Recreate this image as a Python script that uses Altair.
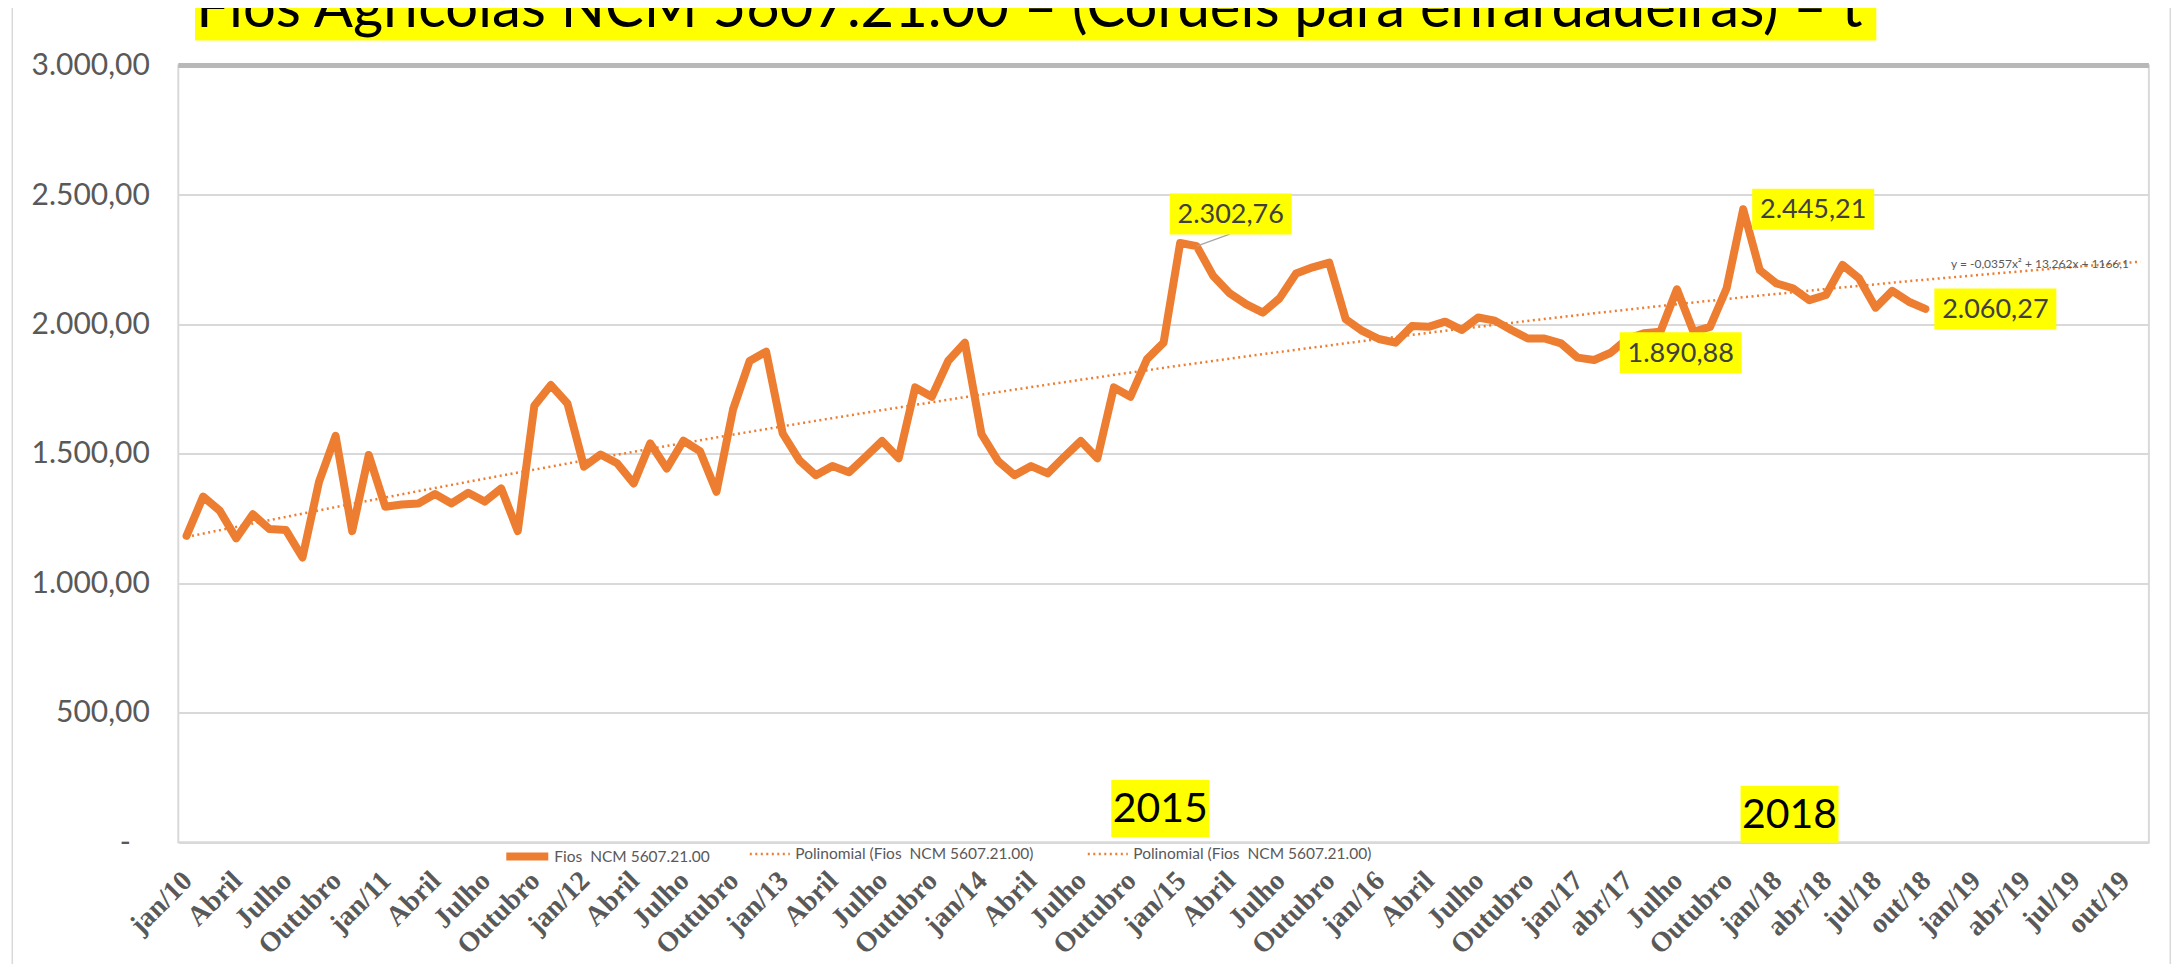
import json
import altair as alt
import pandas as pd

# ---------------- data ----------------
values = [
    1184, 1335, 1281, 1174, 1267, 1210, 1206, 1100, 1393, 1570,
    1202, 1496, 1296, 1305, 1309, 1345, 1309, 1350, 1316, 1367,
    1202, 1686, 1766, 1695, 1451, 1498, 1464, 1386, 1541, 1444,
    1551, 1511, 1354, 1672, 1859, 1895, 1579, 1476, 1418, 1453,
    1429, 1489, 1550, 1483, 1757, 1721, 1860, 1930, 1577, 1473,
    1418, 1453, 1425, 1489, 1550, 1483, 1757, 1721, 1866, 1930,
    2315, 2302.76, 2187, 2120, 2078, 2046, 2101, 2197, 2221, 2239,
    2020, 1975, 1944, 1930, 1994, 1991, 2011, 1979, 2027, 2015,
    1979, 1946, 1946, 1927, 1872, 1863, 1890.88, 1945, 1966, 1972,
    2136, 1972, 1991, 2140, 2445.21, 2210, 2159, 2140, 2094, 2114,
    2230, 2178, 2065, 2130, 2088, 2060.27,
]
n_categories = 119  # jan/10 ... nov/19

tick_labels = [
    "jan/10", "Abril", "Julho", "Outubro",
    "jan/11", "Abril", "Julho", "Outubro",
    "jan/12", "Abril", "Julho", "Outubro",
    "jan/13", "Abril", "Julho", "Outubro",
    "jan/14", "Abril", "Julho", "Outubro",
    "jan/15", "Abril", "Julho", "Outubro",
    "jan/16", "Abril", "Julho", "Outubro",
    "jan/17", "abr/17", "Julho", "Outubro",
    "jan/18", "abr/18", "jul/18", "out/18",
    "jan/19", "abr/19", "jul/19", "out/19",
]
y_ticks = [0, 500, 1000, 1500, 2000, 2500, 3000]

series_name = "Fios\u00a0 NCM 5607.21.00"
trend_names = ["Polinomial (Fios\u00a0 NCM 5607.21.00)", "Polinomial (Fios\u00a0 NCM 5607.21.00)\u00a0"]

right_label_idx = [86, 94, 105]
peak_label_idx = [61]

year_texts = ["2015", "2018"]
year_i = [58.8, 96.8]
year_v = [131, 108]

equation = "y = -0,0357x\u00b2 + 13,262x + 1166,1"
title_text = "Fios Agrícolas NCM  5607.21.00  \u2013  (Cordéis para enfardadeiras)  \u2013 t"

# ---------------- styling ----------------
ORANGE = "#ED7D31"
GRID = "#d9d9d9"
TXT = "#595959"
SANS = "Lato"

df = pd.DataFrame({"i": list(range(len(values))), "v": values})
fmt_expr = "replace(replace(replace(format(datum.v, ',.2f'), ',', '#'), '.', ','), '#', '.')"

x_enc = alt.X(
    "i:Q",
    scale=alt.Scale(domain=[-0.5, n_categories - 0.5], nice=False, zero=False),
    axis=alt.Axis(
        values=list(range(0, 3 * len(tick_labels), 3)),
        labelExpr=json.dumps(tick_labels) + "[round(datum.value / 3)]",
        labelAngle=-45,
        labelAlign="right",
        labelBaseline="middle",
        labelFont="Liberation Serif",
        labelFontWeight="bold",
        labelFontSize=28,
        labelColor=TXT,
        labelPadding=34,
        labelOffset=1,
        labelOverlap=False,
        ticks=False,
        tickSize=0,
        domain=False,
        grid=False,
        title=None,
    ),
)
y_enc = alt.Y(
    "v:Q",
    scale=alt.Scale(domain=[0, 3000], nice=False),
    axis=alt.Axis(
        values=y_ticks,
        labelExpr="datum.value == 0 ? '-' : replace(replace(replace(format(datum.value, ',.2f'), ',', '#'), '.', ','), '#', '.')",
        labelFont=SANS,
        labelFontSize=30,
        labelColor=TXT,
        labelPadding={"condition": {"test": "datum.value === 0", "value": 48}, "value": 29},
        ticks=False,
        domain=False,
        grid=True,
        gridColor=GRID,
        gridWidth=2,
        title=None,
    ),
)

base = alt.Chart(df)

top_frame = base.mark_rule(color="#b8b8b8", strokeWidth=5).encode(y=alt.datum(3000)).transform_filter("datum.i == 0")

trend = (
    base.transform_regression("i", "v", method="poly", order=2, extent=[0, n_categories - 1])
    .transform_calculate(trend=json.dumps(trend_names[0]))
    .mark_line(color=ORANGE, strokeWidth=2.5)
    .encode(
        x="i:Q",
        y="v:Q",
        strokeDash=alt.StrokeDash(
            "trend:N",
            scale=alt.Scale(domain=trend_names, range=[[2, 3.5], [2, 3.5]]),
            legend=alt.Legend(
                orient="none", legendX=570, legendY=767, direction="horizontal",
                title=None, symbolType="stroke", symbolSize=1600, symbolStrokeWidth=2.5,
                symbolStrokeColor=ORANGE, labelFont=SANS, labelFontSize=15.5, labelColor=TXT,
                labelLimit=500, columnPadding=48, labelOffset=4, padding=0,
            ),
        ),
    )
)

line = (
    base.transform_calculate(series=json.dumps(series_name))
    .mark_line(strokeWidth=8, strokeCap="round", strokeJoin="round")
    .encode(
        x=x_enc,
        y=y_enc,
        color=alt.Color(
            "series:N",
            scale=alt.Scale(domain=[series_name], range=[ORANGE]),
            legend=alt.Legend(
                orient="none", legendX=324, legendY=766, direction="horizontal",
                title=None, symbolType="stroke", symbolSize=1764, symbolStrokeWidth=8,
                labelFont=SANS, labelFontSize=15.5, labelColor=TXT, labelLimit=500,
                labelOffset=2, padding=0,
            ),
        ),
    )
)

right_lbl = base.transform_filter(alt.FieldOneOfPredicate(field="i", oneOf=right_label_idx)).transform_calculate(lbl=fmt_expr)
right_rect = right_lbl.mark_rect(color="#FFFF00", width=122, height=41, xOffset=70).encode(x="i:Q", y="v:Q")
right_text = right_lbl.mark_text(font=SANS, fontSize=27, color="#404040", align="center", baseline="middle", dx=70, dy=1).encode(x="i:Q", y="v:Q", text="lbl:N")

peak_lbl = base.transform_filter(alt.FieldOneOfPredicate(field="i", oneOf=peak_label_idx)).transform_calculate(lbl=fmt_expr)
peak_leader = peak_lbl.mark_rule(color="#a6a6a6", strokeWidth=1.2, x2Offset=33, y2Offset=-12).encode(x="i:Q", y="v:Q", x2="i:Q", y2="v:Q")
peak_rect = peak_lbl.mark_rect(color="#FFFF00", width=122, height=41, xOffset=34, yOffset=-32).encode(x="i:Q", y="v:Q")
peak_text = peak_lbl.mark_text(font=SANS, fontSize=27, color="#404040", align="center", baseline="middle", dx=34, dy=-31).encode(x="i:Q", y="v:Q", text="lbl:N")

ydf = pd.DataFrame({"t": year_texts, "i": year_i, "v": year_v})
year_rect = alt.Chart(ydf).mark_rect(color="#FFFF00", width=98, height=57).encode(x="i:Q", y="v:Q")
year_text = alt.Chart(ydf).mark_text(font=SANS, fontSize=41, color="#000000", align="center", baseline="middle", dy=2).encode(x="i:Q", y="v:Q", text="t:N")

eq = alt.Chart(pd.DataFrame({"t": [equation], "i": [106.55], "v": [2234]})).mark_text(
    font=SANS, fontSize=12, color=TXT, align="left", baseline="middle"
).encode(x="i:Q", y="v:Q", text="t:N")

tdf = pd.DataFrame({"t": [title_text]})
title_rect = alt.Chart(tdf).mark_rect(color="#FFFF00").encode(
    x=alt.value(16.7), x2=alt.value(1698), y=alt.value(-80), y2=alt.value(-25)
)
title_txt = alt.Chart(tdf).mark_text(font=SANS, fontSize=58, color="#000000", align="left", baseline="alphabetic").encode(
    x=alt.value(18), y=alt.value(-39), text="t:N"
)

border = alt.Chart(tdf)
b_left = border.mark_rule(color=GRID, strokeWidth=1.5).encode(x=alt.value(-166), y=alt.value(-61), y2=alt.value(930))
b_top = border.mark_rule(color=GRID, strokeWidth=1.5).encode(y=alt.value(-61), x=alt.value(-166), x2=alt.value(1992))
b_right = border.mark_rule(color=GRID, strokeWidth=1.5).encode(x=alt.value(1992), y=alt.value(-61), y2=alt.value(930))

chart = (
    alt.layer(
        b_left, b_top, b_right,
        top_frame, trend, line,
        peak_leader, right_rect, right_text, peak_rect, peak_text,
        year_rect, year_text, eq, title_rect, title_txt,
    )
    .resolve_legend(color="independent", strokeDash="independent")
    .properties(
        width=1970.6,
        height=776.7,
        autosize=alt.AutoSizeParams(type="none"),
        padding={"left": 170.3, "top": 57.6, "right": 25, "bottom": 122},
        background="white",
    )
    .configure_view(stroke=GRID, strokeWidth=2)
)

chart.save("out.html", embed_options={"renderer": "svg", "actions": False})
